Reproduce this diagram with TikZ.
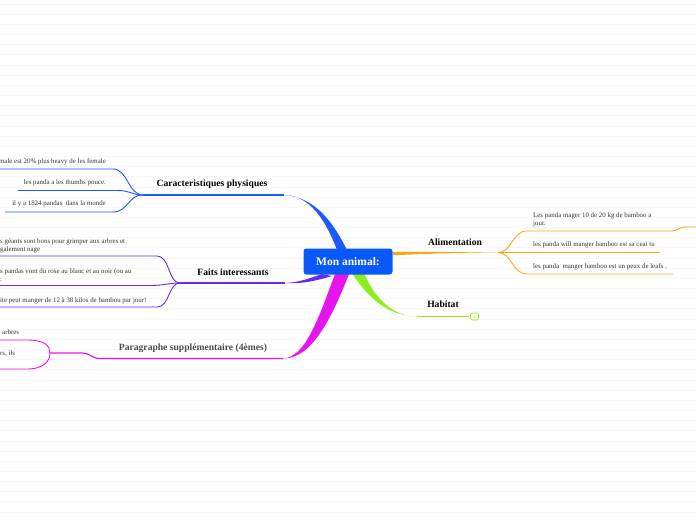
\documentclass[tikz,border=0pt]{standalone}
\usepackage{fontspec}
\setmainfont{Liberation Serif}
\usetikzlibrary{positioning}
\definecolor{RootBlue}{RGB}{8,88,250}
\definecolor{PhysBlue}{RGB}{28,90,255}
\definecolor{FaitPurple}{RGB}{104,40,245}
\definecolor{ParaMagenta}{RGB}{232,20,240}
\definecolor{HabGreen}{RGB}{140,238,30}
\definecolor{AlimOrange}{RGB}{252,165,22}

\begin{document}
\begin{tikzpicture}[x=1pt,y=-1pt,
    bgline/.style={black!3, line width=0.7pt},
    topic/.style={font=\bfseries\fontsize{9.6}{11}\selectfont, inner sep=0pt},
    leaf/.style={font=\fontsize{6.9}{8.2}\selectfont, text=black!80, inner sep=0pt, align=left},
    twig/.style={line width=0.9pt},
    limb/.style={line width=1.2pt}]
  \useasboundingbox (0,0) rectangle (696,520);
  \clip (0,0) rectangle (696,520);
  % ruled background
  \foreach \i in {0,...,51}
    \draw[bgline] (0,4+10.16*\i) -- (696,4+10.16*\i);

  % topics
  \node[topic] (phys) at (212,184) {Caracteristiques physiques};
  \node[topic] (fait) at (233,272) {Faits interessants};
  \node[topic, text=black!70] (para) at (193,348) {Paragraphe supplémentaire (4èmes)};
  \node[topic] (alim) at (455,242) {Alimentation};
  \node[topic] (habi) at (443,304) {Habitat};

  % junctions
  \coordinate (jphys) at (143,195);
  \coordinate (jfait) at (180,283);
  \coordinate (jpara) at (50,353);
  \coordinate (jalim) at (498,252.5);
  \coordinate (ephys) at (284,195);
  \coordinate (efait) at (285,283);
  \coordinate (epara) at (283,358.5);
  \coordinate (ehabi) at (417,316.5);

  % main branches
  \fill[PhysBlue] (337,250) .. controls (326,221) and (310,195) .. (ephys)
    .. controls (316,197) and (334,224) .. (347,250) -- cycle;
  \draw[limb, PhysBlue] (ephys) -- (jphys);
  \fill[FaitPurple] (322,274) .. controls (308,279) and (298,282.4) .. (efait)
    .. controls (300,284) and (314,281.5) .. (332,276) -- cycle;
  \draw[limb, FaitPurple] (efait) -- (jfait);
  \fill[ParaMagenta] (335,274) .. controls (318,320) and (305,357.5) .. (epara)
    .. controls (311,359) and (331,320) .. (349,274) -- cycle;
  \draw[limb, ParaMagenta] (epara) -- (100,358.5) .. controls (92,358.5) and (90,353) .. (82,353) -- (jpara);
  \fill[HabGreen] (352,273) .. controls (370,301) and (390,315.8) .. (ehabi)
    .. controls (394,317) and (375,299) .. (364,273) -- cycle;
  \draw[limb, HabGreen] (ehabi) -- (469,316.5);
  \fill[AlimOrange] (393,251.8) -- (440,252) -- (jalim) -- (440,253.4) -- (393,255.2) -- cycle;

  % root
  \node[fill=RootBlue, rounded corners=3pt, minimum width=89pt, minimum height=26pt,
    text=white, font=\bfseries\fontsize{11.5}{13}\selectfont] (root) at (348,261.5) {Mon animal:};

  % collapsed marker
  \node[draw=HabGreen, rounded corners=1.5pt, line width=0.7pt, minimum width=8pt, minimum height=7pt,
    inner sep=0pt, text=HabGreen, font=\fontsize{5}{5}\selectfont] (hcount) at (474.5,316.5) {2};

  % Caracteristiques physiques
  \node[leaf, anchor=east] (p1) at (106,161.5) {male est 20\% plus heavy de les female};
  \node[leaf, anchor=east] (p2) at (106,183) {les panda a les thumbs pouce.};
  \node[leaf, anchor=east] (p3) at (106,204) {il y a 1824 pandas\ \ dans la monde};
  \draw[twig, PhysBlue] (0,169) -- (113,169) .. controls (128,169) and (128,195) .. (jphys);
  \draw[twig, PhysBlue] (18,190.5) -- (118,190.5) .. controls (130,190.5) and (132,195) .. (jphys);
  \draw[twig, PhysBlue] (5,212) -- (113,212) .. controls (128,212) and (128,195) .. (jphys);

  % Faits interessants
  \node[leaf, anchor=west] (f1) at (0,246) {s géants sont bons pour grimper aux arbres et\\galement nage};
  \node[leaf, anchor=west] (f2) at (0,275) {s pandas vont du rose au blanc et au noir (ou au\\:};
  \node[leaf, anchor=west] (f3) at (0,300.5) {ite peut manger de 12 à 38 kilos de bambou par jour!};
  \draw[twig, FaitPurple] (0,256) -- (157,256) .. controls (170,256) and (168,283) .. (jfait);
  \draw[twig, FaitPurple] (0,285.5) -- (150,285.5) .. controls (165,285.5) and (168,283) .. (jfait);
  \draw[twig, FaitPurple] (0,307) -- (157,307) .. controls (170,307) and (168,283) .. (jfait);

  % Paragraphe supplementaire
  \node[leaf, anchor=west] (s1) at (2,332.5) {arbres};
  \node[leaf, anchor=west] (s2) at (0,354) {rs, ils};
  \draw[twig, ParaMagenta] (0,340) -- (27,340) .. controls (45,340) and (50,346) .. (jpara);
  \draw[twig, ParaMagenta] (0,369) -- (27,369) .. controls (45,369) and (50,360) .. (jpara);

  % Alimentation
  \node[leaf, anchor=west] (a1) at (533,220) {Les panda mager 10 de 20 kg de bamboo a\\jour.};
  \node[leaf, anchor=west] (a2) at (533,245) {les panda will manger bamboo est sa ceat tu};
  \node[leaf, anchor=west] (a3) at (533,266.5) {les panda\ \ manger bamboo est un peux de leafs .};
  \draw[twig, AlimOrange] (jalim) .. controls (512,252.5) and (512,231) .. (527,231) -- (672,231)
    .. controls (677,231) and (678,227) .. (686,227) -- (696,227);
  \draw[twig, AlimOrange] (jalim) -- (660,252.5);
  \draw[twig, AlimOrange] (jalim) .. controls (512,252.5) and (512,274) .. (527,274) -- (673,274);
\end{tikzpicture}
\end{document}
